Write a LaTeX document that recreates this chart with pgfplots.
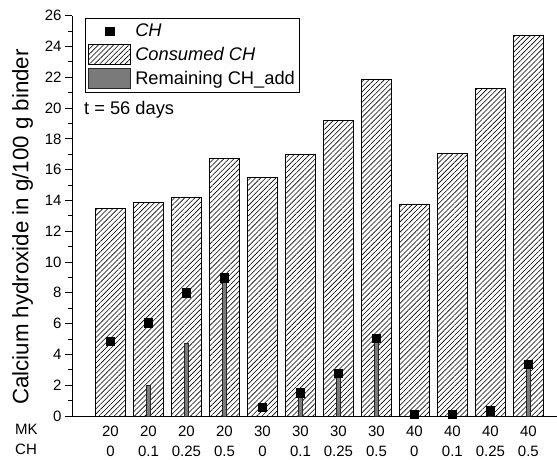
\documentclass[border=0pt]{standalone}
\usepackage{pgfplots}
\pgfplotsset{compat=1.18}
\usepackage{fontspec}
\setmainfont{Liberation Sans}
\usetikzlibrary{patterns.meta}
\definecolor{thingray}{RGB}{122,122,122}
\begin{document}
\begin{tikzpicture}
\begin{axis}[
  scale only axis, width=484pt, height=400.3pt,
  xmin=0, xmax=12.74, ymin=0, ymax=26,
  axis x line*=bottom, axis y line*=left,
  axis line style={line width=0.9pt, black},
  ytick={0,2,...,26}, minor y tick num=1,
  tick align=outside,
  major tick length=7.5pt, minor tick length=4pt,
  every tick/.style={line width=0.9pt, black},
  xtick={1,...,12},
  xtick style={draw=none},
  xticklabels={{20\\0},{20\\0.1},{20\\0.25},{20\\0.5},{30\\0},{30\\0.1},{30\\0.25},{30\\0.5},{40\\0},{40\\0.1},{40\\0.25},{40\\0.5}},
  xticklabel style={align=center, font=\fontsize{15}{19.5}\selectfont, anchor=north, inner sep=0pt, yshift=-2.5pt},
  yticklabel style={font=\fontsize{15}{17}\selectfont},
  /pgf/number format/assume math mode=true,
  ylabel={Calcium hydroxide in g/100 g binder},
  ylabel style={font=\fontsize{22.3}{26}\selectfont, at={(rel axis cs:0,0.472)}, anchor=center, yshift=50pt},
  clip=false,
  legend style={at={(rel axis cs:0,1)}, anchor=north west, xshift=12.5pt, yshift=-2.3pt,
    draw=black, line width=0.9pt, fill=white, font=\fontsize{18.3}{22}\selectfont,
    inner sep=3pt, row sep=3pt, column sep=3pt, nodes={inner sep=1pt}, cells={anchor=base west}},
  legend cell align=left,
]
\addlegendimage{legend image code/.code={\path[draw=none,fill=none] (0pt,-10.5pt) rectangle (42pt,9.5pt);
   \draw[black,fill=black] plot[only marks, mark=square*, mark size=4.1pt] coordinates {(21pt,-0.5pt)};}}
\addlegendentry{\textit{CH}}
\addlegendimage{legend image code/.code={\draw[black, line width=0.8pt, fill=none, pattern={Lines[angle=45,distance=3.6pt,line width=0.6pt]}] (0pt,-10.5pt) rectangle (42pt,9.5pt);}}
\addlegendentry{\textit{Consumed CH}}
\addlegendimage{legend image code/.code={\draw[black!85, line width=0.8pt, fill=thingray] (0pt,-10.5pt) rectangle (42pt,9.5pt);}}
\addlegendentry{Remaining CH\_add}

% Consumed CH
\addplot[ybar, bar width=30.5pt, bar shift=0pt, draw=black, line width=0.8pt,
  pattern={Lines[angle=45,distance=3.6pt,line width=0.6pt]}, forget plot]
  coordinates {(1,13.50) (2,13.87) (3,14.22) (4,16.75) (5,15.50) (6,17.02)
               (7,19.17) (8,21.87) (9,13.77) (10,17.04) (11,21.26) (12,24.73)};
% Remaining CH_add
\addplot[ybar, bar width=4.5pt, bar shift=0pt, draw=black!85, line width=0.7pt,
  fill=thingray, forget plot]
  coordinates {(2,1.97) (3,4.74) (4,9.00) (6,1.47) (7,2.66) (8,5.00) (11,0.30) (12,3.27)};
% CH
\addplot[only marks, mark=square*, mark size=4.2pt, black, mark options={fill=black}, forget plot]
  coordinates {(1,4.85) (2,6.06) (3,8.01) (4,8.98) (5,0.58) (6,1.51)
               (7,2.77) (8,5.06) (9,0.13) (10,0.10) (11,0.35) (12,3.35)};

\node[anchor=west, inner sep=0pt, font=\fontsize{18.3}{22}\selectfont] at (axis cs:0.30,19.87) {t = 56 days};
\node[anchor=north west, align=left, inner sep=0pt, font=\fontsize{15}{19.5}\selectfont]
  at ([xshift=-57.5pt,yshift=-8pt]rel axis cs:0,0) {MK\\CH};
\end{axis}
\pgfresetboundingbox
\path (-72.5pt,-43pt) rectangle (484.5pt,416pt);
\end{tikzpicture}
\end{document}
